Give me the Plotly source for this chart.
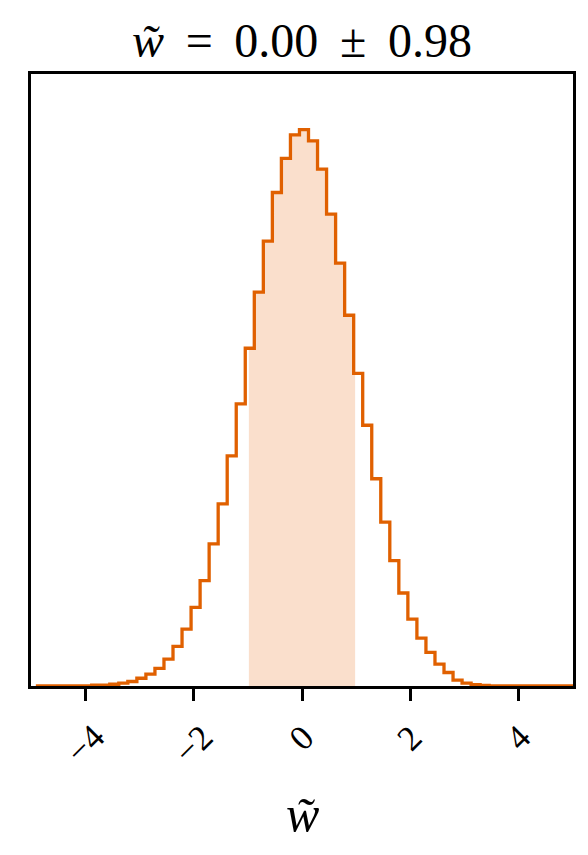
import plotly.graph_objects as go

# histogram of w~ (density), 60 bins of width 1/6
bin_start = -4.88
bin_width = 1 / 6
density = [
    0.0001, 0.0001, 0.0001, 0.0001, 0.0001, 0.0001, 0.0006, 0.0006, 0.0013, 0.0021,
    0.0033, 0.0057, 0.0087, 0.0129, 0.0197, 0.0290, 0.0417, 0.0577, 0.0773, 0.1042,
    0.1336, 0.1687, 0.2069, 0.2477, 0.2888, 0.3263, 0.3619, 0.3869, 0.4042, 0.4080,
    0.3998, 0.3790, 0.3461, 0.3101, 0.2719, 0.2293, 0.1912, 0.1520, 0.1202, 0.0920,
    0.0682, 0.0491, 0.0351, 0.0246, 0.0160, 0.0099, 0.0043, 0.0021, 0.0009, 0.0004,
    0.0001, 0.0001, 0.0001, 0.0001, 0.0001, 0.0001, 0.0001, 0.0001, 0.0001, 0.0001,
]
mean = 0.00
std = 0.98
tick_vals = [-4, -2, 0, 2, 4]
tick_text = ["\u22124", "\u22122", "0", "2", "4"]

LINE = "#e06000"
FILL = "rgba(230, 97, 0, 0.2)"
FONT = "Liberation Serif"

# page body has an 8px margin, so the figure is sized to sit inside it
W, H = 580, 847
PLOT_H = 612

edges = [bin_start + i * bin_width for i in range(len(density) + 1)]

# step outline, starting and ending at zero like a step histogram
step_x = [edges[0]] + edges
step_y = [0] + density + [0]

# shaded +/- 1 sigma region following the histogram steps
lo, hi = mean - std, mean + std
shade_x = [lo]
shade_y = []
for i, v in enumerate(density):
    if edges[i + 1] > lo and edges[i] < hi:
        if edges[i] > lo:
            shade_x.append(edges[i])
        shade_y.append(v)
shade_x.append(hi)
shade_y.append(shade_y[-1])

fig = go.Figure()

fig.add_trace(go.Scatter(
    x=shade_x,
    y=shade_y,
    mode="lines",
    line={"shape": "hv", "width": 2, "color": "rgba(230, 97, 0, 0.3)"},
    fill="tozeroy",
    fillcolor=FILL,
    hoverinfo="skip",
    showlegend=False,
))

fig.add_trace(go.Scatter(
    x=step_x,
    y=step_y,
    mode="lines",
    line={"shape": "hv", "width": 3.3, "color": LINE},
    showlegend=False,
))

ymax = max(density) * 1.1

annotations = []
for v, t in zip(tick_vals, tick_text):
    annotations.append(dict(
        x=v, y=-29 / PLOT_H, xref="x", yref="paper",
        text=t, showarrow=False, textangle=-45,
        xanchor="center", yanchor="top",
        font={"family": FONT, "size": 35, "color": "black"},
    ))
annotations.append(dict(
    x=0.5, y=-128 / PLOT_H, xref="paper", yref="paper",
    text="<i>w\u0303</i>", showarrow=False,
    xanchor="center", yanchor="middle",
    font={"family": FONT, "size": 50, "color": "black"},
))

fig.update_layout(
    width=W,
    height=H,
    margin={"l": 23, "r": 15, "t": 66, "b": H - 66 - PLOT_H},
    paper_bgcolor="white",
    plot_bgcolor="white",
    title={
        "text": f"<i>w\u0303</i> \u2009=\u2009 {mean:.2f} \u2009\u00b1\u2009 {std:.2f}",
        "x": 0.5, "xref": "paper", "xanchor": "center",
        "y": 1 - 32 / H, "yref": "container", "yanchor": "middle",
        "font": {"family": FONT, "size": 48, "color": "black"},
    },
    annotations=annotations,
)

fig.update_xaxes(
    range=[-5, 5],
    showgrid=False,
    zeroline=False,
    showline=True,
    mirror=True,
    linecolor="black",
    linewidth=3,
    ticks="outside",
    ticklen=12,
    tickwidth=3,
    tickcolor="black",
    tickvals=tick_vals,
    showticklabels=False,
)
fig.update_yaxes(
    range=[0, ymax],
    showgrid=False,
    zeroline=False,
    showline=True,
    mirror=True,
    linecolor="black",
    linewidth=3,
    ticks="",
    showticklabels=False,
)

fig.write_html("out.html")
